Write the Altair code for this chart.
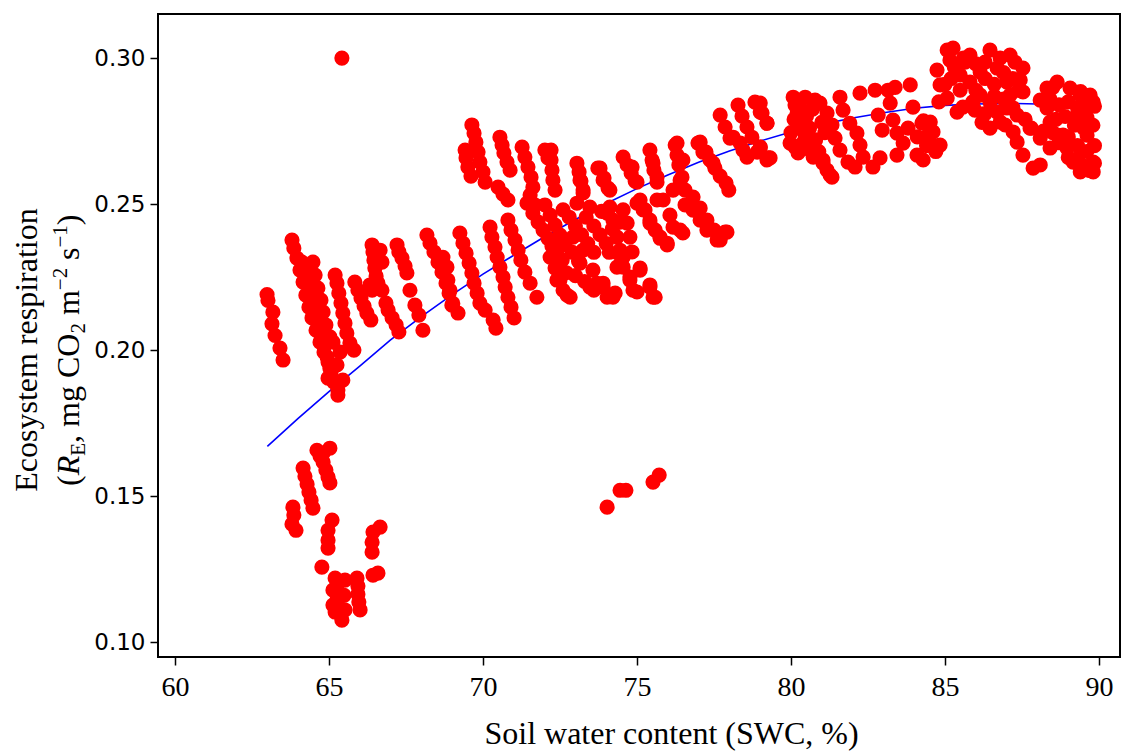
import altair as alt
import pandas as pd

# ---- data: (SWC %, RE mg CO2 m-2 s-1) ----
outlier = [(65.42, 0.300)]

low_cluster = [
    (64.61, 0.1657), (64.71, 0.1637), (64.81, 0.1616), (64.90, 0.1589), (64.97, 0.1565),
    (65.03, 0.1545), (65.03, 0.1664), (64.81, 0.1647),
    (64.16, 0.1596), (64.22, 0.1568), (64.29, 0.1541), (64.35, 0.1514), (64.42, 0.1486), (64.48, 0.1459),
    (63.83, 0.1462), (63.86, 0.1435), (63.80, 0.1404), (63.93, 0.1383),
    (65.10, 0.1418), (64.97, 0.1383), (64.97, 0.1349), (64.97, 0.1322),
    (64.77, 0.1257),
    (66.66, 0.1394), (66.43, 0.1377), (66.40, 0.1342), (66.40, 0.1308),
    (66.59, 0.1236), (66.43, 0.1229),
    (65.20, 0.1219), (65.26, 0.1195), (65.23, 0.1171), (65.26, 0.1144), (65.29, 0.1120),
    (65.36, 0.1096), (65.42, 0.1075), (65.13, 0.1178), (65.13, 0.1127), (65.20, 0.1103),
    (65.52, 0.1212), (65.49, 0.1160), (65.52, 0.1110),
    (65.91, 0.1219), (65.94, 0.1192), (65.94, 0.1164), (65.97, 0.1137), (66.01, 0.1110),
]

mid_isolated = [(74.03, 0.1462), (74.45, 0.1520), (74.64, 0.1520), (75.52, 0.1548), (75.72, 0.1572)]

left_streaks = [
    (62.99, 0.2190), (63.02, 0.2170), (63.18, 0.2130), (63.15, 0.2090), (63.25, 0.2050), (63.41, 0.2007), (63.51, 0.1966),
    (63.80, 0.2377), (63.86, 0.2349), (63.96, 0.2315), (64.06, 0.2274), (64.16, 0.2233), (64.25, 0.2188),
    (64.35, 0.2147), (64.45, 0.2110), (64.58, 0.2068), (64.71, 0.2027), (64.84, 0.1993), (64.97, 0.1959),
    (65.07, 0.1925), (65.16, 0.1890), (65.29, 0.1863),
    (64.12, 0.2301), (64.22, 0.2264), (64.32, 0.2223), (64.42, 0.2181), (64.51, 0.2144), (64.58, 0.2103),
    (64.71, 0.2058), (64.84, 0.2017), (64.94, 0.1976), (65.03, 0.1938),
    (64.48, 0.2301), (64.55, 0.2257), (64.64, 0.2212), (64.74, 0.2171), (64.81, 0.2130), (64.90, 0.2086), (65.03, 0.2045),
    (64.97, 0.1904), (65.45, 0.1897), (65.29, 0.1846), (65.13, 0.2027), (65.36, 0.1993), (65.26, 0.1949),
    (65.20, 0.2257), (65.26, 0.2229), (65.32, 0.2195), (65.39, 0.2161), (65.45, 0.2127), (65.52, 0.2092),
    (65.58, 0.2058), (65.68, 0.2024), (65.81, 0.2000),
    (65.84, 0.2233), (65.94, 0.2205), (66.04, 0.2178), (66.14, 0.2151), (66.23, 0.2127), (66.36, 0.2103),
    (66.40, 0.2360), (66.43, 0.2336), (66.46, 0.2308), (66.49, 0.2281), (66.53, 0.2253), (66.59, 0.2229),
    (66.72, 0.2205), (66.33, 0.2223), (66.66, 0.2342), (66.72, 0.2301), (66.40, 0.2205),
    (67.21, 0.2360), (67.27, 0.2336), (67.37, 0.2315), (67.47, 0.2288), (67.53, 0.2264),
    (66.85, 0.2161), (66.92, 0.2137), (67.05, 0.2110), (67.18, 0.2086), (67.27, 0.2062),
    (67.63, 0.2205), (67.79, 0.2154), (67.92, 0.2120), (68.05, 0.2068),
]

mid_streaks = [
    (68.18, 0.2394), (68.28, 0.2366), (68.41, 0.2336), (68.54, 0.2301), (68.67, 0.2267), (68.80, 0.2229),
    (68.90, 0.2195), (68.99, 0.2154),
    (68.70, 0.2318), (68.83, 0.2284), (68.86, 0.2240), (68.93, 0.2205), (69.02, 0.2160), (69.19, 0.2127),
    (69.25, 0.2401), (69.35, 0.2366), (69.45, 0.2332), (69.55, 0.2298), (69.64, 0.2264), (69.71, 0.2229),
    (69.81, 0.2195), (69.90, 0.2161), (70.07, 0.2137),
    (70.23, 0.2421), (70.29, 0.2387), (70.39, 0.2353), (70.46, 0.2318), (70.55, 0.2284), (70.65, 0.2250),
    (70.72, 0.2216), (70.81, 0.2181), (70.91, 0.2147), (71.01, 0.2110), (70.33, 0.2103), (70.42, 0.2075),
    (70.81, 0.2445), (70.91, 0.2411), (71.04, 0.2377), (71.14, 0.2342), (71.23, 0.2308), (71.36, 0.2267),
    (71.53, 0.2229), (71.75, 0.2181),
    (69.64, 0.2771), (69.71, 0.2743), (69.77, 0.2712), (69.84, 0.2678), (69.90, 0.2644), (70.00, 0.2610), (70.07, 0.2575),
    (69.42, 0.2685), (69.45, 0.2658), (69.51, 0.2627), (69.61, 0.2596),
    (70.55, 0.2729), (70.62, 0.2702), (70.68, 0.2675), (70.78, 0.2644), (70.88, 0.2616),
    (70.49, 0.2558), (70.65, 0.2534), (70.81, 0.2514),
    (71.27, 0.2695), (71.36, 0.2661), (71.46, 0.2627), (71.56, 0.2592), (71.62, 0.2558),
    (72.21, 0.2685), (72.21, 0.2651), (72.24, 0.2616), (72.27, 0.2582), (72.34, 0.2548), (72.01, 0.2685), (72.11, 0.2658),
    (71.53, 0.2531), (71.69, 0.2497),
]

center_cloud = [
    (71.43, 0.2503), (71.62, 0.2469), (71.79, 0.2438), (71.95, 0.2411), (72.11, 0.2383), (72.24, 0.2356),
    (72.40, 0.2332), (72.57, 0.2308),
    (72.01, 0.2497), (72.18, 0.2462), (72.34, 0.2428), (72.50, 0.2394), (72.66, 0.2360),
    (72.18, 0.2318), (72.34, 0.2281), (72.40, 0.2240), (72.60, 0.2205), (72.73, 0.2188),
    (73.15, 0.2298), (73.57, 0.2274), (73.70, 0.2229), (74.03, 0.2181),
    (72.92, 0.2387), (73.25, 0.2342),
    (72.50, 0.2240), (72.83, 0.2181), (73.47, 0.2216), (73.90, 0.2229), (74.22, 0.2181), (74.35, 0.2284),
    (74.55, 0.2318), (74.77, 0.2250), (75.10, 0.2274), (75.42, 0.2216), (75.52, 0.2181), (74.87, 0.2205),
    (72.60, 0.2480), (73.05, 0.2503), (73.47, 0.2490), (74.03, 0.2469), (74.22, 0.2445), (74.55, 0.2480),
    (74.68, 0.2435), (74.35, 0.2387), (74.77, 0.2387), (74.45, 0.2342), (75.00, 0.2503), (75.20, 0.2480),
    (75.42, 0.2435), (75.75, 0.2387), (75.98, 0.2366), (76.17, 0.2421), (76.49, 0.2401), (75.65, 0.2514),
    (75.85, 0.2514), (76.17, 0.2548), (76.40, 0.2582), (76.30, 0.2709), (76.49, 0.2651),
    (73.05, 0.2640), (73.12, 0.2610), (73.18, 0.2579), (73.25, 0.2548),
    (73.80, 0.2623), (73.93, 0.2589), (74.06, 0.2555),
    (73.15, 0.2582), (73.25, 0.2538), (73.73, 0.2623), (73.90, 0.2582), (74.12, 0.2548),
    (74.55, 0.2661), (74.84, 0.2627), (75.00, 0.2575), (75.42, 0.2685), (75.52, 0.2640), (75.65, 0.2592),
    (74.68, 0.2634), (74.81, 0.2606), (74.94, 0.2579), (75.49, 0.2651), (75.55, 0.2616), (75.65, 0.2575),
    (72.80, 0.2455), (73.00, 0.2425), (73.20, 0.2395), (73.40, 0.2365), (73.60, 0.2335), (72.90, 0.2335),
    (73.10, 0.2305), (72.70, 0.2265), (73.00, 0.2255), (73.30, 0.2235), (73.60, 0.2205), (73.35, 0.2455),
    (73.60, 0.2425), (73.80, 0.2395), (74.00, 0.2365), (74.10, 0.2335), (73.85, 0.2475), (74.20, 0.2415),
]

right_mid = [
    (76.24, 0.2702), (76.30, 0.2668), (76.36, 0.2634), (76.46, 0.2592), (76.56, 0.2548), (76.56, 0.2497),
    (76.82, 0.2479), (77.05, 0.2445), (77.27, 0.2411), (77.60, 0.2377), (77.86, 0.2404),
    (76.98, 0.2709), (77.14, 0.2678), (77.37, 0.2651), (77.53, 0.2623), (77.70, 0.2596), (77.89, 0.2572),
    (78.12, 0.2729), (78.44, 0.2685), (79.22, 0.2651),
    (75.10, 0.2514), (75.26, 0.2480), (75.42, 0.2445), (75.59, 0.2411), (75.75, 0.2383), (75.98, 0.2360),
    (76.07, 0.2462), (76.40, 0.2411),
    (74.12, 0.2490), (74.45, 0.2438),
    (74.38, 0.2332), (74.84, 0.2336), (74.55, 0.2284), (75.10, 0.2281), (74.77, 0.2240), (75.42, 0.2223),
    (75.59, 0.2181), (75.00, 0.2199), (74.29, 0.2195), (73.90, 0.2216),
    (77.70, 0.2805), (77.86, 0.2764), (78.02, 0.2726),
    (78.28, 0.2839), (78.41, 0.2801), (78.57, 0.2764), (78.73, 0.2729), (79.00, 0.2695), (79.32, 0.2658),
    (78.83, 0.2849), (79.00, 0.2815), (79.22, 0.2777),
    (77.05, 0.2712), (77.24, 0.2678), (77.47, 0.2640), (77.98, 0.2548),
    (76.82, 0.2524), (77.05, 0.2486), (77.27, 0.2445), (77.50, 0.2411), (77.70, 0.2377), (77.92, 0.2404),
    (78.35, 0.2709), (78.57, 0.2661), (78.90, 0.2678),
]

upper_right = [
    (79.97, 0.2709), (80.23, 0.2675), (80.52, 0.2695), (80.72, 0.2661), (81.04, 0.2640), (81.27, 0.2599),
    (80.07, 0.2866), (80.13, 0.2839), (80.20, 0.2812), (80.29, 0.2781), (80.39, 0.2753), (80.46, 0.2726),
    (80.13, 0.2695), (80.62, 0.2685), (81.04, 0.2651), (81.17, 0.2616), (81.33, 0.2592),
    (80.94, 0.2846), (81.17, 0.2812), (81.33, 0.2771), (81.43, 0.2726), (81.59, 0.2685), (81.85, 0.2644), (82.08, 0.2627),
    (81.59, 0.2866), (81.69, 0.2822), (81.91, 0.2777), (82.14, 0.2743), (82.24, 0.2702), (82.34, 0.2661),
    (82.66, 0.2627), (82.89, 0.2658),
    (82.24, 0.2880), (82.73, 0.2890), (82.83, 0.2805), (82.96, 0.2753),
    (83.15, 0.2890), (83.38, 0.2900), (83.22, 0.2846), (83.31, 0.2788), (83.44, 0.2743), (83.64, 0.2709),
    (83.44, 0.2668), (84.09, 0.2668), (84.29, 0.2651),
    (83.87, 0.2908), (83.96, 0.2832), (84.25, 0.2777), (84.45, 0.2736), (84.61, 0.2702),
    (79.00, 0.2846), (79.06, 0.2812), (79.22, 0.2777), (79.00, 0.2695), (79.26, 0.2658),
    (80.46, 0.2866), (80.78, 0.2856), (84.52, 0.2781),
    (80.10, 0.2790), (80.30, 0.2830), (80.50, 0.2800), (80.60, 0.2760), (80.80, 0.2720), (80.00, 0.2745),
    (80.35, 0.2705), (80.90, 0.2680), (81.10, 0.2745), (81.00, 0.2780), (80.70, 0.2825),
    (83.80, 0.2760), (84.10, 0.2730), (84.40, 0.2700), (84.70, 0.2680), (84.30, 0.2785),
]

far_right = [
    (85.07, 0.3027), (85.26, 0.3034), (85.81, 0.3010), (86.46, 0.3027), (87.11, 0.3010), (87.53, 0.2966),
    (84.74, 0.2959), (84.84, 0.2908), (85.07, 0.2863), (85.39, 0.2815), (85.58, 0.2832), (85.49, 0.2942),
    (85.81, 0.2918), (86.14, 0.2873), (86.46, 0.2849), (86.69, 0.2815), (87.01, 0.2829), (87.34, 0.2805),
    (87.53, 0.2884), (86.46, 0.2760), (86.79, 0.2781), (87.21, 0.2747), (87.34, 0.2712), (87.53, 0.2668),
    (87.86, 0.2623), (88.09, 0.2634), (87.76, 0.2760), (88.09, 0.2726), (88.41, 0.2692), (88.64, 0.2736),
    (88.31, 0.2897), (88.64, 0.2918), (89.06, 0.2897), (89.39, 0.2873), (89.81, 0.2849), (89.71, 0.2873),
    (88.31, 0.2829), (88.41, 0.2781), (88.83, 0.2736), (88.96, 0.2692), (89.16, 0.2644), (89.39, 0.2610),
    (89.81, 0.2644), (89.81, 0.2610), (89.61, 0.2736), (89.61, 0.2795), (89.29, 0.2805),
    (86.69, 0.2966), (87.01, 0.2918), (86.14, 0.2952), (84.61, 0.2747), (84.84, 0.2702),
    (85.16, 0.2993), (85.65, 0.2986), (86.30, 0.2986), (86.79, 0.3000), (87.27, 0.2986), (87.44, 0.2925),
    (87.11, 0.2873), (85.97, 0.2822), (85.49, 0.2890), (86.95, 0.2771), (88.09, 0.2856), (88.50, 0.2900),
    (85.30, 0.2970), (85.60, 0.3000), (86.00, 0.2980), (86.30, 0.2930), (86.60, 0.2910), (86.90, 0.2950),
    (87.20, 0.2930), (87.40, 0.2890), (86.00, 0.2890), (85.90, 0.2850), (86.30, 0.2810), (86.60, 0.2870),
    (86.90, 0.2860), (87.20, 0.2830), (85.20, 0.2930), (85.00, 0.2910), (87.60, 0.2790), (87.80, 0.2760),
    (86.20, 0.2780), (84.80, 0.2850),
    (88.40, 0.2860), (88.70, 0.2840), (89.00, 0.2850), (89.30, 0.2830), (89.60, 0.2840), (88.60, 0.2790),
    (88.90, 0.2800), (89.20, 0.2770), (89.50, 0.2760), (89.80, 0.2770), (88.70, 0.2710), (89.00, 0.2730),
    (89.30, 0.2700), (89.60, 0.2680), (89.85, 0.2700), (89.00, 0.2660), (89.50, 0.2630), (89.85, 0.2640),
    (89.30, 0.2655), (89.70, 0.2615), (88.20, 0.2750), (88.50, 0.2745), (89.85, 0.2835), (89.40, 0.2885),
]

# fitted curve
curve_swc = [63, 64, 65, 66, 67, 68, 69, 70, 71, 72, 73, 74, 75, 76, 77, 78, 79, 80,
             81, 82, 83, 84, 85, 86, 87, 88, 89, 89.8]
curve_re = [0.1670, 0.1766, 0.1858, 0.1945, 0.2035, 0.2115, 0.2190, 0.2260, 0.2325, 0.2388,
            0.2447, 0.2502, 0.2553, 0.2600, 0.2643, 0.2682, 0.2716, 0.2747, 0.2773, 0.2795,
            0.2813, 0.2828, 0.2838, 0.2843, 0.2845, 0.2843, 0.2837, 0.2829]

x_ticks = [60, 65, 70, 75, 80, 85, 90]
y_ticks = [0.10, 0.15, 0.20, 0.25, 0.30]

all_pts = outlier + low_cluster + mid_isolated + left_streaks + mid_streaks + center_cloud + right_mid + upper_right + far_right
pts = pd.DataFrame(all_pts, columns=["swc", "re"])
curve = pd.DataFrame({"swc": curve_swc, "re": curve_re})

xs = alt.Scale(domain=[59.45, 90.68], nice=False, zero=False)
ys = alt.Scale(domain=[0.0949, 0.3151], nice=False, zero=False)

x_axis = alt.Axis(values=x_ticks, format="d", title="Soil water content (SWC, %)",
                  labelFont="Liberation Sans Narrow", labelFontSize=28, labelPadding=8,
                  titleFont="Liberation Serif", titleFontSize=32, titleFontWeight="normal",
                  titleX=513, titleY=86, titleBaseline="alphabetic", titleAlign="center")
y_axis = alt.Axis(values=y_ticks, format=".2f", title=None,
                  labelFont="DejaVu Sans", labelFontSize=23, labelPadding=5)

line = alt.Chart(curve).mark_line(color="#0000ff", strokeWidth=1.6).encode(
    x=alt.X("swc:Q", scale=xs, axis=x_axis),
    y=alt.Y("re:Q", scale=ys, axis=y_axis),
    order="swc:Q",
)
points = alt.Chart(pts).mark_circle(color="#ff0000", opacity=1, size=230).encode(
    x=alt.X("swc:Q", scale=xs),
    y=alt.Y("re:Q", scale=ys),
)

blank = alt.Data(values=[{"a": 1}])


def seg(text, x, y, size=32, style="normal", align="left"):
    return alt.Chart(blank).mark_text(
        text=text, font="Liberation Serif", fontSize=size, fontStyle=style,
        angle=270, align=align, baseline="alphabetic", color="black"
    ).encode(x=alt.value(x), y=alt.value(y))


b1 = -121
b2 = -79
segs = [
    seg("Ecosystem respiration", b1, 336, align="center"),
    seg("(", b2, 472),
    seg("R", b2, 461.3, style="italic"),
    seg("E", b2 + 6, 441.7, size=21),
    seg(", mg CO", b2, 428.9),
    seg("2", b2 + 6, 319.6, size=21),
    seg("m", b2, 301.1),
    seg("\u22122", b2 - 12, 276.2, size=21),
    seg("s", b2, 245.9),
    seg("\u22121", b2 - 12, 233.5, size=21),
    seg(")", b2, 211.2),
]

chart = alt.layer(line, points, *segs).properties(
    width=962, height=643,
    autosize=alt.AutoSizeParams(type="none"),
    padding={"left": 150, "top": 6, "right": 2, "bottom": 94},
).configure_view(stroke="black", strokeWidth=2).configure_axis(
    domain=False, grid=False, tickColor="black", tickWidth=1.5, tickSize=8,
    labelColor="black", titleColor="black",
)

chart.save("out.html", embed_options={"renderer": "svg", "actions": False})
